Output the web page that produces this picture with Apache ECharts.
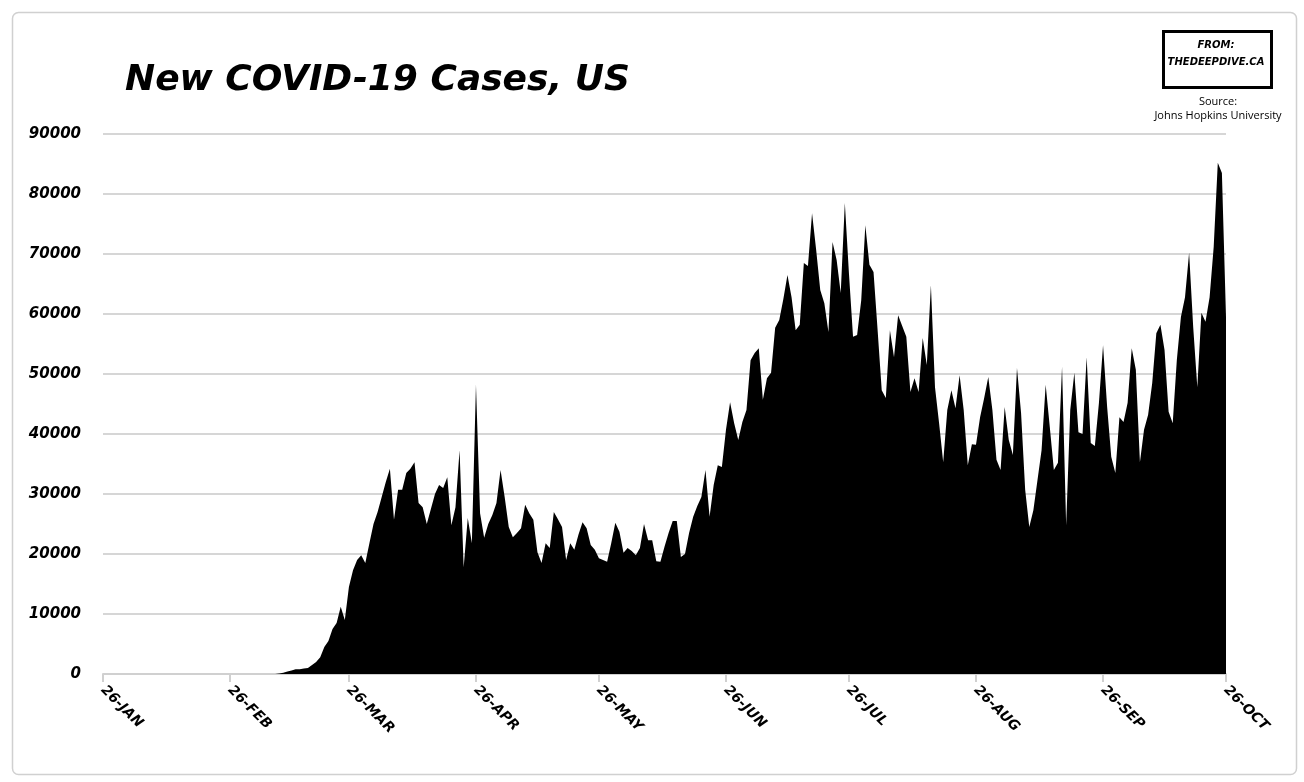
<!DOCTYPE html>
<html><head><meta charset="utf-8">
<script src="https://cdn.jsdelivr.net/npm/echarts@6/dist/echarts.min.js"></script>
<style>html,body{margin:0;background:#fff}#c{width:1304px;height:782px}</style>
</head><body><div id="c"></div>
<script>
// daily new cases in thousands, 26 Jan .. 26 Oct 2020
var casesK = [
  0,0,0,0,0,0,0,0,0,0, 0,0,0,0,0,0,0,0,0,0,
  0,0,0,0,0,0,0,0,0,0, 0,0,0,0,0,0,0,0,0,0,
  0,0,0,0.1,0.2,0.4,0.6,0.8,0.8,0.9,
  1.0,1.5,2.0,2.8,4.5,5.5,7.5,8.5,11.2,9.0,
  14.5,17.3,19.0,19.8,18.5,21.8,25,27,29.5,32,
  34.2,25.7,30.7,30.7,33.5,34.2,35.3,28.5,27.8,25,
  27.5,30,31.5,31,32.8,24.8,27.8,37.3,17.8,26,
  21.8,48.2,26.8,22.7,25,26.5,28.5,34,29.5,24.5,
  22.8,23.5,24.3,28.2,26.8,25.7,20.3,18.5,21.8,21,
  27,25.8,24.5,19,21.8,20.7,23.2,25.3,24.3,21.5,
  20.7,19.3,19,18.7,21.8,25.2,23.7,20.2,21,20.5,
  19.8,21,25,22.3,22.3,18.8,18.7,21.2,23.5,25.5,
  25.5,19.5,20,23.5,26.2,28,29.5,34,26.2,31.5,
  34.8,34.5,40.7,45.3,41.8,39,42,44,52.3,53.5,
  54.3,45.7,49.3,50.2,57.7,59,62.5,66.5,62.8,57.3,
  58.2,68.5,68,76.8,70.7,64,61.8,57,72,69,
  63.5,78.5,66.8,56.2,56.5,62.3,74.8,68.2,67,57.3,
  47.3,46,57.3,52.8,59.8,58,56.2,47,49.3,47,
  56,51.5,64.8,47.8,41.8,35.3,44,47.3,44.3,49.8,
  44,34.8,38.3,38.2,42.8,46,49.5,44,35.7,34,
  44.5,39,36.5,51,43.5,30.7,24.5,27.3,32.3,37.3,
  48.2,41.2,34,35.2,51.2,24.8,44,50.2,40.3,40,
  52.8,38.5,38,45.2,54.8,44.5,36.2,33.5,42.8,42,
  45.2,54.3,50.7,35.3,40.7,43.2,48.5,56.8,58.2,54,
  43.7,41.8,52.3,59.5,62.8,70.2,57.8,47.8,60.2,58.7,
  62.8,71.2,85.2,83.5,59.5
];
var monthNames = ['Jan','Feb','Mar','Apr','May','Jun','Jul','Aug','Sep','Oct'];
var yTicks = [0, 90000, 10000];
var titleText = 'New COVID-19 Cases, US';
var sourceText = 'Source:\nJohns Hopkins University';

var dates = [];
var start = new Date(2020, 0, 26);
for (var i = 0; i < casesK.length; i++) {
    var d = new Date(start.getTime());
    d.setDate(start.getDate() + i);
    dates.push(d.getDate() + '-' + monthNames[d.getMonth()]);
}
var values = casesK.map(function (v) { return Math.round(v * 1000); });
var isTick = function (idx) { return dates[idx].indexOf('26-') === 0; };
var hand = '"DejaVu Sans", sans-serif';

var chart = echarts.init(document.getElementById('c'));
chart.setOption({
    animation: false,
    grid: {left: 103, right: 78, top: 134, bottom: 108},
    title: {
        text: titleText, left: 120, top: 58,
        textStyle: {fontFamily: hand, fontSize: 36, fontWeight: 'bold', fontStyle: 'italic', color: '#000'}
    },
    xAxis: {
        type: 'category', data: dates, boundaryGap: false,
        axisLine: {lineStyle: {color: '#d0d0d0', width: 2}},
        axisTick: {interval: function (idx) { return isTick(idx); }, length: 8, lineStyle: {color: '#d0d0d0', width: 2}},
        axisLabel: {
            interval: function (idx) { return isTick(idx); }, rotate: -45, margin: 14,
            fontFamily: hand, fontSize: 14, fontWeight: 'bold', fontStyle: 'italic', color: '#000',
            formatter: function (v) { return v.toUpperCase(); }
        }
    },
    yAxis: {
        type: 'value', min: yTicks[0], max: yTicks[1], interval: yTicks[2],
        axisLine: {show: false}, axisTick: {show: false},
        splitLine: {lineStyle: {color: '#d6d6d6', width: 2}},
        axisLabel: {fontFamily: hand, fontSize: 15, fontWeight: 'bold', fontStyle: 'italic', color: '#000', margin: 22,
                    formatter: function (v) { return String(v); }}
    },
    series: [{
        type: 'line', data: values, symbol: 'none',
        lineStyle: {width: 0}, areaStyle: {color: '#000', opacity: 1}
    }],
    graphic: [
        {type: 'rect', left: 10, top: 10, shape: {width: 1284, height: 762, r: 6},
         style: {fill: 'none', stroke: '#d0d0d0', lineWidth: 1.5}, z: -1},
        {type: 'rect', left: 1162, top: 30, shape: {width: 108, height: 56},
         style: {fill: '#fff', stroke: '#000', lineWidth: 3}},
        {type: 'text', x: 1216, y: 40,
         style: {text: 'FROM:', font: 'bold italic 10px ' + hand, fill: '#000', align: 'center'}},
        {type: 'text', x: 1216, y: 57,
         style: {text: 'THEDEEPDIVE.CA', font: 'bold italic 10px ' + hand, fill: '#000', align: 'center'}},
        {type: 'text', x: 1218, y: 95,
         style: {text: sourceText, font: '11px "Open Sans", sans-serif', fill: '#000', align: 'center', lineHeight: 14}}
    ]
});
</script>
</body></html>
